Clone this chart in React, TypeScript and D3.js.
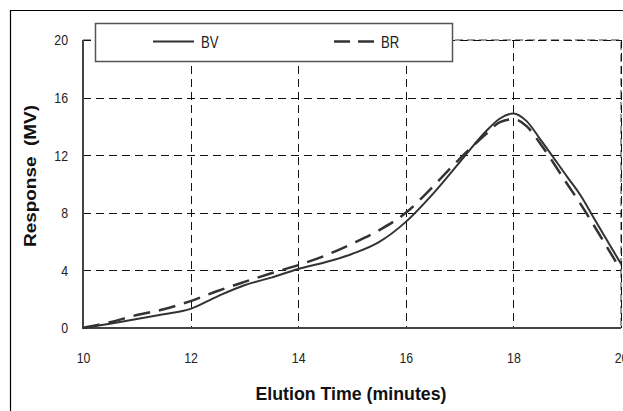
import { useEffect, useRef } from 'react'
import * as d3 from 'd3'

// elution time (minutes)
const timeBV = [10, 10.5, 11, 11.5, 12, 12.5, 13, 13.5, 14, 14.5, 15, 15.5, 16, 16.5, 17, 17.5, 17.75, 18, 18.25, 18.5, 19, 19.25, 19.5, 20]
const valuesBV = [0, 0.3, 0.63, 0.95, 1.33, 2.2, 2.97, 3.5, 4.1, 4.56, 5.14, 5.96, 7.37, 9.3, 11.5, 13.7, 14.55, 14.9, 14.35, 13.1, 10.5, 9.2, 7.6, 4.45]

const timeBR = [10, 10.5, 11, 11.5, 12, 12.5, 13, 13.5, 14, 14.5, 15, 15.5, 16, 16.5, 17, 17.5, 17.75, 18, 18.25, 18.5, 19, 19.25, 19.5, 20]
const valuesBR = [0, 0.4, 0.9, 1.3, 1.87, 2.57, 3.2, 3.8, 4.37, 5.03, 5.85, 6.78, 8.0, 9.8, 11.75, 13.5, 14.3, 14.5, 14.0, 12.8, 10.0, 8.6, 7.1, 4.0]

const xTicks = [10, 12, 14, 16, 18, 20]
const yTicks = [0, 4, 8, 12, 16, 20]

const seriesNames = ['BV', 'BR']

const FONT = '"Liberation Sans", Arial, sans-serif'
const NARROW = 0.82

// squeeze Liberation Sans to look like Arial Narrow
function narrow(sel: d3.Selection<any, any, any, any>, factor = NARROW) {
  sel.each(function () {
    const el = this as SVGTextElement
    const w = el.getComputedTextLength()
    if (w > 0) {
      el.setAttribute('textLength', String(w * factor))
      el.setAttribute('lengthAdjust', 'spacingAndGlyphs')
    }
  })
}

export default function App() {
  const ref = useRef<SVGSVGElement | null>(null)

  useEffect(() => {
    if (!ref.current) return
    const width = 623
    const height = 411
    const plot = { left: 83, right: 621, top: 40, bottom: 328 }

    const svg = d3.select(ref.current)
    svg.selectAll('*').remove()

    svg.append('rect').attr('width', width).attr('height', height).attr('fill', '#fff')

    // outer frame
    svg
      .append('path')
      .attr('d', `M10.5,${height + 2} V10.5 H${width + 2}`)
      .attr('fill', 'none')
      .attr('stroke', '#000')
      .attr('stroke-width', 1.2)

    const x = d3.scaleLinear().domain([10, 20]).range([plot.left, plot.right])
    const y = d3.scaleLinear().domain([0, 20]).range([plot.bottom, plot.top])

    // plot border (grey dashed top/right)
    svg
      .append('path')
      .attr('d', `M${plot.left},${plot.top} H${plot.right} V${plot.bottom}`)
      .attr('fill', 'none')
      .attr('stroke', '#9a9a9a')
      .attr('stroke-width', 2)
      .attr('stroke-dasharray', '8,4')

    // grid
    const grid = svg.append('g').attr('stroke', '#111').attr('stroke-width', 1).attr('stroke-dasharray', '8,5')
    grid
      .selectAll('.vg')
      .data(xTicks.slice(1))
      .enter()
      .append('line')
      .attr('x1', (d) => Math.round(x(d)) + 0.5)
      .attr('x2', (d) => Math.round(x(d)) + 0.5)
      .attr('y1', plot.top)
      .attr('y2', plot.bottom)
    grid
      .selectAll('.hg')
      .data(yTicks.slice(1))
      .enter()
      .append('line')
      .attr('x1', plot.left)
      .attr('x2', plot.right)
      .attr('y1', (d) => Math.round(y(d)) + 0.5)
      .attr('y2', (d) => Math.round(y(d)) + 0.5)

    // axes lines
    svg
      .append('path')
      .attr('d', `M${plot.left},${plot.top} V${plot.bottom} H${plot.right}`)
      .attr('fill', 'none')
      .attr('stroke', '#444')
      .attr('stroke-width', 2)

    const yAxis = svg
      .append('g')
      .attr('transform', `translate(${plot.left},0)`)
      .call(d3.axisLeft(y).tickValues(yTicks).tickSize(0).tickPadding(15))
    yAxis.select('.domain').remove()
    yAxis.selectAll('text').attr('fill', '#222').attr('font-size', 15).attr('font-family', FONT)
    narrow(yAxis.selectAll('text'))

    const xAxis = svg
      .append('g')
      .attr('transform', `translate(0,${plot.bottom})`)
      .call(d3.axisBottom(x).tickValues(xTicks).tickSize(0).tickPadding(24))
    xAxis.select('.domain').remove()
    xAxis.selectAll('text').attr('fill', '#222').attr('font-size', 15).attr('font-family', FONT)
    narrow(xAxis.selectAll('text'))

    // series
    const line = d3
      .line<[number, number]>()
      .x((d) => x(d[0]))
      .y((d) => y(d[1]))
      .curve(d3.curveMonotoneX)

    svg
      .append('path')
      .datum(timeBV.map((t, i) => [t, valuesBV[i]] as [number, number]))
      .attr('d', line)
      .attr('fill', 'none')
      .attr('stroke', '#333')
      .attr('stroke-width', 2)

    svg
      .append('path')
      .datum(timeBR.map((t, i) => [t, valuesBR[i]] as [number, number]))
      .attr('d', line)
      .attr('fill', 'none')
      .attr('stroke', '#333')
      .attr('stroke-width', 2.5)
      .attr('stroke-dasharray', '17,9')

    // legend
    const lg = svg.append('g')
    lg.append('rect')
      .attr('x', 95.5)
      .attr('y', 23.5)
      .attr('width', 357)
      .attr('height', 38)
      .attr('fill', '#fff')
      .attr('stroke', '#555')
      .attr('stroke-width', 1.5)
    lg.append('line').attr('x1', 153).attr('x2', 194).attr('y1', 41.5).attr('y2', 41.5).attr('stroke', '#333').attr('stroke-width', 2)
    lg.append('line')
      .attr('x1', 334)
      .attr('x2', 375)
      .attr('y1', 41.5)
      .attr('y2', 41.5)
      .attr('stroke', '#333')
      .attr('stroke-width', 2.5)
      .attr('stroke-dasharray', '16,8')
    const lt = lg
      .selectAll('.lt')
      .data(seriesNames)
      .enter()
      .append('text')
      .attr('x', (_, i) => (i === 0 ? 201 : 381))
      .attr('y', 47.5)
      .attr('fill', '#222')
      .attr('font-size', 16)
      .attr('font-family', FONT)
      .text((d) => d)
    narrow(lt)

    // axis titles
    const xt = svg
      .append('text')
      .attr('x', 351)
      .attr('y', 400)
      .attr('text-anchor', 'middle')
      .attr('font-size', 18)
      .attr('font-weight', 'bold')
      .attr('font-family', FONT)
      .attr('fill', '#111')
      .text('Elution Time (minutes)')
    xt.attr('textLength', 191).attr('lengthAdjust', 'spacingAndGlyphs')

    const yt = svg
      .append('text')
      .attr('transform', 'translate(36,176) rotate(-90)')
      .attr('text-anchor', 'middle')
      .attr('font-size', 17)
      .attr('font-weight', 'bold')
      .attr('font-family', FONT)
      .attr('fill', '#111')
      .attr('xml:space', 'preserve')
      .text('Response  (MV)')
    yt.attr('textLength', 142).attr('lengthAdjust', 'spacingAndGlyphs')
  }, [])

  return (
    <svg
      ref={ref}
      width={623}
      height={411}
      viewBox="0 0 623 411"
      style={{ position: 'absolute', left: 0, top: 0, overflow: 'hidden' }}
      role="img"
      aria-label="Response vs elution time"
    />
  )
}
